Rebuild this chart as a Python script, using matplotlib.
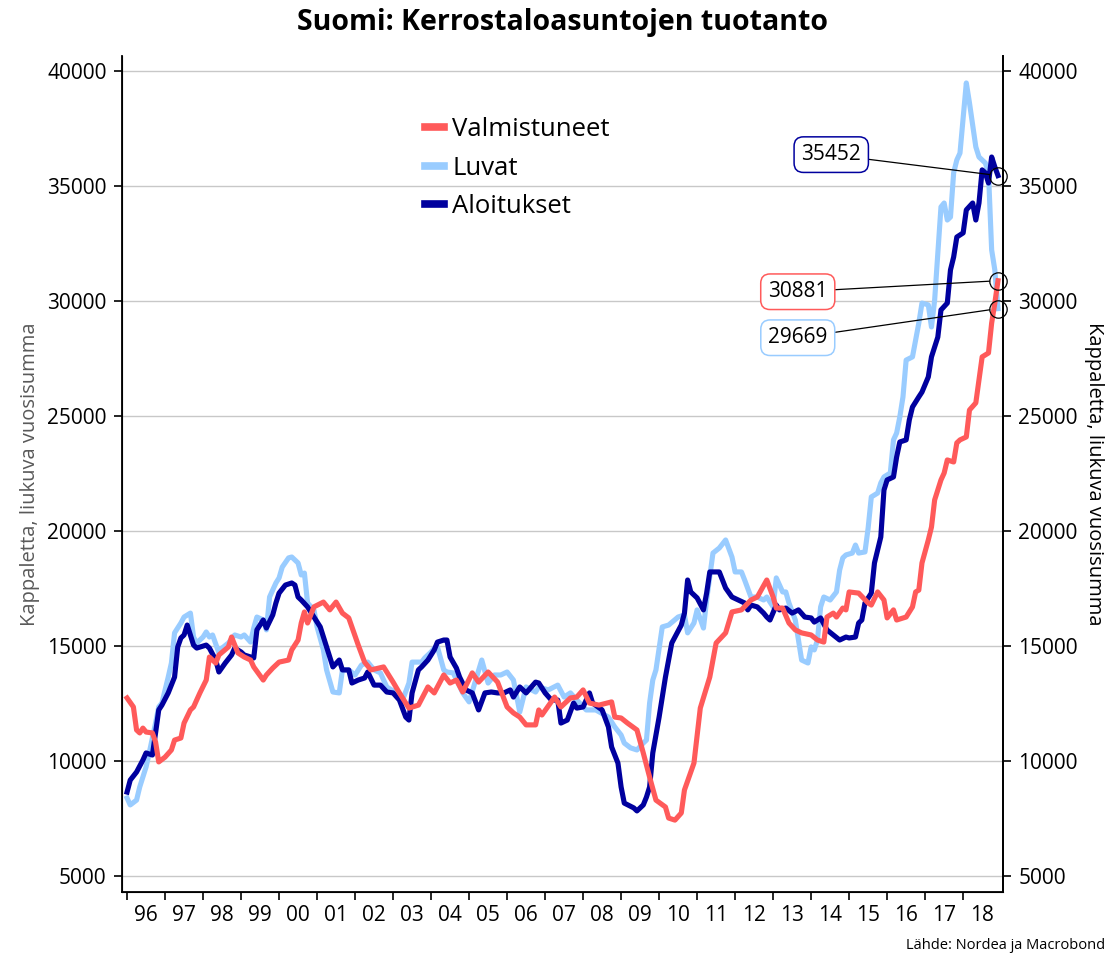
import numpy as np
import matplotlib
matplotlib.use("Agg")
import matplotlib.pyplot as plt

plt.rcParams['font.family'] = ['Open Sans', 'DejaVu Sans']

# Kuukausi-indeksi: 0 = tammikuu 1996. Arvot = liukuva vuosisumma, kpl
valm_kk = [0, 2, 3, 4, 5, 6, 8, 9, 10, 12,
           14, 15, 17, 18, 20, 21, 23, 25, 26, 28,
           29, 32, 33, 35, 37, 39, 40, 43, 44, 46,
           48, 51, 52, 54, 55, 56, 57, 59, 62, 64,
           66, 68, 70, 73, 75, 77, 81, 84, 86, 89,
           92, 95, 97, 100, 102, 104, 106, 109, 111, 114,
           117, 120, 122, 124, 126, 129, 130, 131, 135, 137,
           140, 142, 144, 146, 149, 153, 154, 156, 158, 161,
           163, 165, 167, 170, 171, 173, 175, 176, 179, 181,
           184, 186, 189, 191, 194, 197, 199, 202, 204, 205,
           207, 209, 211, 213, 216, 218, 220, 221, 223, 224,
           226, 227, 228, 231, 234, 235, 237, 239, 240, 242,
           243, 246, 248, 249, 250, 251, 253, 254, 255, 257,
           258, 259, 261, 262, 263, 265, 266, 268, 270, 272,
           273, 274, 275]
valmistuneet = [12740, 12350, 11350, 11220, 11430, 11260, 11220, 10830, 9960, 10170,
                10480, 10910, 11000, 11650, 12220, 12350, 12960, 13520, 14520, 14260,
                14610, 14960, 15390, 14700, 14520, 14390, 14090, 13520, 13740, 14040,
                14300, 14390, 14830, 15260, 16000, 16480, 16000, 16700, 16910, 16570,
                16910, 16430, 16220, 15040, 14300, 13960, 14090, 13430, 12960, 12300,
                12430, 13220, 12960, 13740, 13390, 13520, 13000, 13830, 13430, 13870,
                13430, 12350, 12090, 11910, 11570, 11570, 12220, 12000, 12780, 12350,
                12740, 12780, 13090, 12520, 12430, 12570, 11910, 11870, 11650, 11350,
                10350, 9300, 8300, 8000, 7520, 7430, 7740, 8740, 9910, 12300,
                13650, 15130, 15570, 16480, 16570, 17000, 17130, 17870, 17130, 16650,
                16650, 16000, 15700, 15570, 15480, 15260, 15170, 16260, 16430, 16260,
                16650, 16570, 17350, 17300, 16870, 16780, 17350, 17000, 16220, 16570,
                16130, 16260, 16700, 17350, 17430, 18610, 19610, 20170, 21350, 22220,
                22520, 23090, 23000, 23830, 23960, 24090, 25260, 25570, 27570, 27740,
                29040, 29910, 30881]

luvat_kk = [0, 1, 3, 4, 6, 7, 9, 10, 11, 13,
            14, 15, 17, 18, 20, 21, 22, 24, 25, 26,
            27, 29, 30, 32, 34, 36, 37, 39, 40, 41,
            43, 44, 45, 46, 47, 48, 49, 51, 52, 54,
            55, 56, 57, 59, 60, 62, 63, 65, 67, 68,
            70, 72, 74, 76, 78, 80, 82, 85, 87, 89,
            90, 93, 94, 96, 97, 98, 100, 101, 103, 106,
            108, 112, 114, 116, 118, 120, 122, 124, 126, 129,
            130, 133, 136, 138, 140, 142, 145, 148, 152, 154,
            156, 157, 159, 161, 163, 164, 165, 166, 167, 169,
            171, 174, 176, 177, 179, 180, 182, 183, 185, 187,
            189, 191, 192, 194, 195, 197, 199, 201, 202, 204,
            205, 207, 208, 209, 211, 212, 213, 215, 216, 217,
            218, 219, 220, 222, 224, 225, 226, 227, 229, 230,
            231, 233, 234, 235, 237, 238, 239, 241, 242, 243,
            244, 245, 246, 248, 250, 251, 253, 254, 255, 257,
            258, 259, 260, 261, 262, 263, 265, 266, 268, 269,
            271, 272, 273, 274, 275]
luvat = [8390, 8090, 8300, 8870, 9740, 10350, 11650, 12350, 12520, 13650,
         14260, 15570, 16000, 16260, 16430, 15390, 15130, 15390, 15610, 15390,
         15480, 14700, 14910, 15130, 15480, 15390, 15480, 15170, 15780, 16260,
         16130, 15700, 17130, 17430, 17740, 17960, 18430, 18830, 18870, 18610,
         18090, 18170, 16870, 16570, 15830, 14830, 13960, 13000, 12960, 13960,
         13960, 13740, 14170, 14300, 13960, 13830, 13220, 12960, 12650, 13390,
         14300, 14300, 14480, 14740, 14910, 14960, 13960, 13870, 13830, 12960,
         12570, 14390, 13390, 13740, 13740, 13870, 13520, 12130, 13220, 13000,
         13220, 13090, 13300, 12780, 12960, 12650, 12220, 12220, 11910, 11480,
         11130, 10780, 10570, 10480, 10780, 10910, 12520, 13520, 13960, 15830,
         15910, 16260, 16350, 15570, 16000, 16570, 15780, 17000, 19040, 19260,
         19610, 18870, 18220, 18220, 17870, 17130, 17130, 17000, 17130, 16700,
         17960, 17350, 17350, 16870, 16130, 15260, 14390, 14260, 14960, 14830,
         15260, 16700, 17130, 17000, 17350, 18300, 18830, 18960, 19040, 19390,
         19040, 19090, 20130, 21480, 21650, 22090, 22350, 22520, 23960, 24260,
         24960, 25830, 27430, 27570, 29040, 29910, 29830, 28870, 30040, 34090,
         34260, 33520, 33650, 35570, 36130, 36430, 39480, 38610, 36700, 36260,
         36000, 35570, 32220, 31350, 29669]

aloit_kk = [0, 1, 3, 5, 6, 8, 9, 10, 11, 13,
            15, 16, 17, 18, 19, 21, 22, 25, 26, 28,
            29, 31, 33, 34, 36, 37, 39, 40, 41, 43,
            44, 46, 47, 48, 50, 52, 53, 54, 55, 57,
            59, 61, 62, 63, 65, 67, 68, 70, 71, 73,
            75, 76, 78, 80, 82, 84, 86, 88, 89, 90,
            92, 93, 95, 97, 98, 100, 101, 102, 104, 105,
            107, 109, 111, 113, 115, 117, 119, 121, 122, 124,
            126, 129, 130, 132, 134, 136, 137, 139, 141, 142,
            144, 146, 147, 150, 152, 153, 155, 156, 157, 160,
            161, 163, 164, 165, 166, 168, 170, 172, 175, 176,
            177, 178, 180, 182, 183, 184, 187, 189, 191, 193,
            195, 196, 197, 199, 201, 202, 203, 205, 206, 208,
            210, 212, 214, 216, 217, 219, 221, 223, 225, 227,
            228, 230, 231, 232, 233, 235, 236, 238, 239, 240,
            242, 243, 244, 246, 247, 248, 250, 251, 253, 254,
            256, 257, 259, 260, 261, 262, 264, 265, 267, 268,
            269, 270, 271, 272, 273, 274, 275]
aloitukset = [8650, 9170, 9520, 10040, 10350, 10260, 11220, 12220, 12430, 12960,
              13650, 14960, 15350, 15480, 15910, 15040, 14910, 15040, 14910, 14390,
              13870, 14260, 14610, 14910, 14740, 14610, 14520, 14480, 15700, 16130,
              15780, 16350, 16870, 17300, 17650, 17740, 17650, 17130, 17000, 16700,
              16260, 15830, 15390, 14960, 14090, 14390, 13960, 13960, 13390, 13520,
              13610, 13870, 13300, 13300, 13000, 12960, 12650, 11910, 11780, 12960,
              13960, 14090, 14390, 14830, 15170, 15260, 15260, 14520, 14040, 13650,
              13090, 12960, 12220, 12960, 13000, 12960, 12960, 13090, 12780, 13220,
              12960, 13430, 13390, 12960, 12650, 12650, 11650, 11780, 12520, 12300,
              12350, 12960, 12520, 12220, 11480, 10610, 9910, 8870, 8170, 7960,
              7830, 8090, 8430, 8870, 10350, 11910, 13650, 15130, 15910, 16430,
              17870, 17350, 17090, 16570, 17300, 18220, 18220, 17520, 17130, 17000,
              16870, 16570, 16780, 16700, 16430, 16260, 16130, 16780, 16570, 16650,
              16430, 16570, 16260, 16220, 16040, 16220, 15700, 15480, 15260, 15390,
              15350, 15390, 16000, 16130, 16870, 17300, 18610, 19740, 21780, 22220,
              22350, 23220, 23870, 23960, 24830, 25390, 25830, 26040, 26700, 27570,
              28430, 29610, 29910, 31350, 31910, 32780, 32960, 33960, 34260, 33520,
              34260, 35700, 35570, 35130, 36260, 35830, 35452]

vuodet = list(range(1996, 2019))
y_ticks = [5000, 10000, 15000, 20000, 25000, 30000, 35000, 40000]

c_valm = '#FF5A5A'
c_luvat = '#99CCFF'
c_aloit = '#00009E'

fig = plt.figure(figsize=(11.07, 9.57), dpi=100)
ax = fig.add_axes([0.1102, 0.0679, 0.7959, 0.8736])

lw = 3.7
ax.plot(luvat_kk, luvat, color=c_luvat, lw=lw, label='Luvat', zorder=3)
ax.plot(aloit_kk, aloitukset, color=c_aloit, lw=lw, label='Aloitukset', zorder=4)
ax.plot(valm_kk, valmistuneet, color=c_valm, lw=lw, label='Valmistuneet', zorder=5)

ax.set_xlim(-1.6, 276.6)
ax.set_ylim(4304, 40652)
ax.set_yticks(y_ticks)
ax.yaxis.grid(True, color='#C8C8C8', lw=1)
ax.set_axisbelow(True)

ax.set_xticks([(v - 1996) * 12 for v in vuodet])
ax.set_xticklabels([])
ax.set_xticks([(v - 1996) * 12 + 6 for v in vuodet], minor=True)
ax.set_xticklabels(['%02d' % (v % 100) for v in vuodet], minor=True)
ax.tick_params(axis='x', which='minor', length=0, labelsize=15, pad=9)
ax.tick_params(axis='x', which='major', length=6, width=1.2, direction='out')
ax.tick_params(axis='y', length=6, width=1.2, labelsize=15, pad=5)

ax.spines['top'].set_visible(False)
for s in ['left', 'bottom', 'right']:
    ax.spines[s].set_linewidth(1.3)

ax.set_ylabel('Kappaletta, liukuva vuosisumma', fontsize=14.5, color='#595959', labelpad=5)

ax2 = ax.twinx()
ax2.set_ylim(ax.get_ylim())
ax2.set_yticks(y_ticks)
ax2.tick_params(axis='y', length=6, width=1.2, labelsize=15, pad=5)
ax2.spines['top'].set_visible(False)
ax2.spines['right'].set_linewidth(1.3)
ax2.set_ylabel('Kappaletta, liukuva vuosisumma', fontsize=14.5, rotation=270, labelpad=19)

# legenda
h, l = ax.get_legend_handles_labels()
order = [2, 0, 1]
leg = ax.legend([h[i] for i in order], [l[i] for i in order], loc='upper left',
                bbox_to_anchor=(0.344, 0.927), frameon=False, fontsize=18.5,
                handlelength=0.75, handletextpad=0.3, labelspacing=0.53,
                borderpad=0, borderaxespad=0)
for line in leg.get_lines():
    line.set_linewidth(5.5)

# viimeisten arvojen merkinnät
loppu = [
    (aloit_kk[-1], aloitukset[-1], c_aloit, (0.805, 0.882)),
    (valm_kk[-1], valmistuneet[-1], c_valm, (0.767, 0.718)),
    (luvat_kk[-1], luvat[-1], c_luvat, (0.767, 0.663)),
]
for kk, arvo, col, pos in loppu:
    ax.plot(kk, arvo, 'o', ms=12.5, mfc='none', mec='black', mew=0.9, clip_on=False, zorder=6)
    ax.annotate('%d' % arvo, xy=(kk, arvo), xytext=pos, textcoords='axes fraction',
                ha='center', va='center', fontsize=15, zorder=7,
                bbox=dict(boxstyle='round,pad=0.35,rounding_size=0.45', fc='white', ec=col, lw=1.1),
                arrowprops=dict(arrowstyle='-', color='black', lw=0.9, shrinkA=0, shrinkB=6))

fig.text(0.508, 0.977, 'Suomi: Kerrostaloasuntojen tuotanto', ha='center', va='center',
         fontsize=20.5, fontweight='bold')
fig.text(0.998, 0.004, 'Lähde: Nordea ja Macrobond', ha='right', va='bottom', fontsize=10.5)

fig.savefig('out.png', dpi=100)
